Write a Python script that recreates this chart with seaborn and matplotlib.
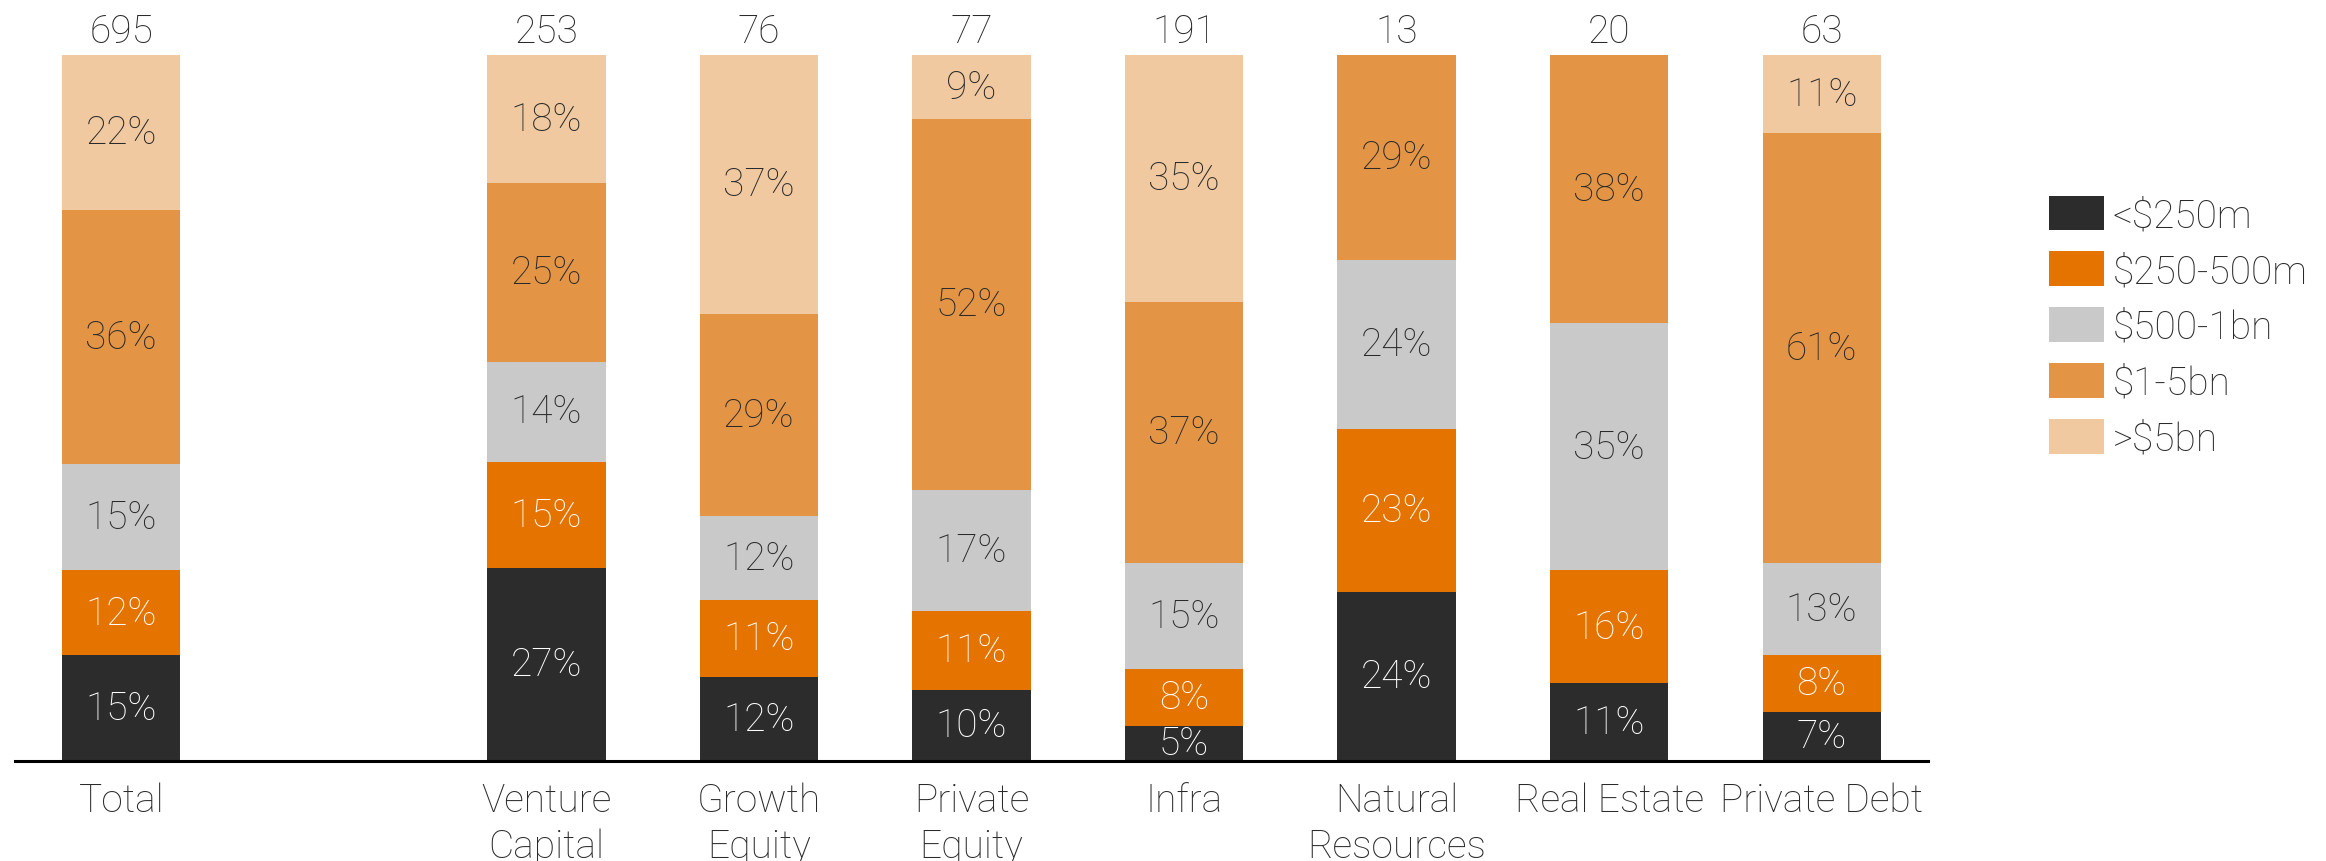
import numpy as np
import pandas as pd
import matplotlib
matplotlib.use("Agg")
import matplotlib.pyplot as plt
from matplotlib.patches import Patch
import seaborn as sns

# Fund categories and number of funds in each
categories = ["Total", "Venture\nCapital", "Growth\nEquity", "Private\nEquity",
              "Infra", "Natural\nResources", "Real Estate", "Private Debt"]
fund_counts = [695, 253, 76, 77, 191, 13, 20, 63]

# Share of funds by fund size band (%)
bands = ["<$250m", "$250-500m", "$500-1bn", "$1-5bn", ">$5bn"]
under_250m = [15, 27, 12, 10, 5, 24, 11, 7]
from_250_to_500m = [12, 15, 11, 11, 8, 23, 16, 8]
from_500m_to_1bn = [15, 14, 12, 17, 15, 24, 35, 13]
from_1_to_5bn = [36, 25, 29, 52, 37, 29, 38, 61]
over_5bn = [22, 18, 37, 9, 35, 0, 0, 11]

band_colors = ["#2c2c2c", "#e57300", "#c9c9c9", "#e39545", "#f0c9a0"]
text_dark = "#2a2a2a"
label_colors = ["white", "white", text_dark, text_dark, text_dark]

sns.set_theme(style="white")
plt.rcParams["font.family"] = ["Roboto", "DejaVu Sans"]
plt.rcParams["font.weight"] = "light"
plt.rcParams["text.parse_math"] = False

values = pd.DataFrame(
    [under_250m, from_250_to_500m, from_500m_to_1bn, from_1_to_5bn, over_5bn],
    index=bands, columns=categories,
).T
# 100% stacked: each bar's segments are shares of that category
shares = values.div(values.sum(axis=1), axis=0) * 100
tops = shares.cumsum(axis=1)
bottoms = tops - shares

# A blank slot separates the total from the individual strategies
order = [categories[0], " "] + categories[1:]
pos = {c: i for i, c in enumerate(order)}

fig = plt.figure(figsize=(23.26, 8.62), dpi=100)
ax = fig.add_axes([15 / 2326, 0.116, (1928 - 15) / 2326, 0.935 - 0.116])

long = tops.reset_index().rename(columns={"index": "category"})
# Draw cumulative bars from the top band down so each lower band sits over the one above
for band, color in reversed(list(zip(bands, band_colors))):
    sns.barplot(data=long, x="category", y=band, order=order, color=color,
                saturation=1, width=0.557, errorbar=None, linewidth=0, ax=ax)

fs = 28
for j, band in enumerate(bands):
    for cat in categories:
        v = values.loc[cat, band]
        if v <= 0:
            continue
        y = bottoms.loc[cat, band] + shares.loc[cat, band] / 2
        ax.text(pos[cat], y, f"{v}%", ha="center", va="center",
                fontsize=fs, color=label_colors[j], fontweight="light")

for cat, n in zip(categories, fund_counts):
    ax.text(pos[cat], 103.3, f"{n}", ha="center", va="center",
            fontsize=fs, color=text_dark, fontweight="light", clip_on=False)

ax.set_ylim(0, 100)
ax.set_xlim(-0.5, len(order) - 0.5)
ax.set_yticks([])
ax.set_xlabel("")
ax.set_ylabel("")
ax.set_xticks(range(len(order)))
ax.set_xticklabels(order, fontsize=fs, color=text_dark, fontweight="light",
                   linespacing=1.28)
ax.tick_params(axis="x", length=0, pad=15)
for side in ["top", "left", "right"]:
    ax.spines[side].set_visible(False)
ax.spines["bottom"].set_color("black")
ax.spines["bottom"].set_linewidth(2.2)

handles = [Patch(facecolor=c, edgecolor="none", label=b) for b, c in zip(bands, band_colors)]
leg = fig.legend(handles=handles, loc="center left", bbox_to_anchor=(2049 / 2326, 0.620),
                 frameon=False, fontsize=fs, handlelength=1.42, handleheight=1.0,
                 handletextpad=0.22, labelspacing=0.44, borderpad=0, borderaxespad=0)
for t in leg.get_texts():
    t.set_color(text_dark)
    t.set_fontweight("light")

fig.savefig("out.png", dpi=100)
